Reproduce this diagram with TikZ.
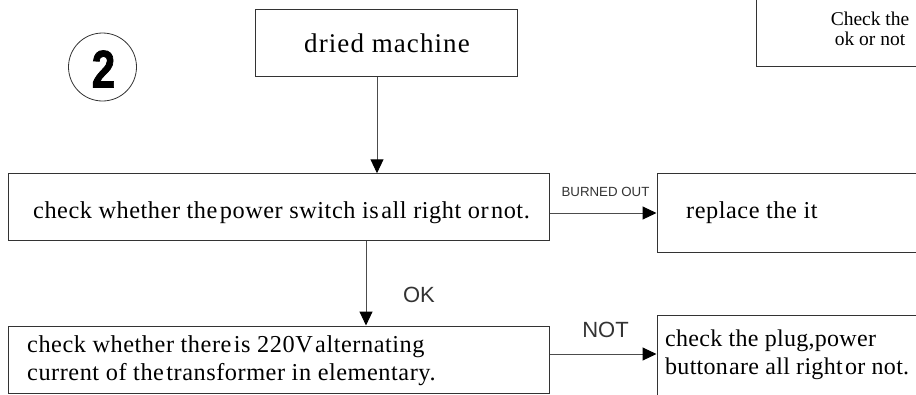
\documentclass[tikz,border=0pt]{standalone}
\usepackage{fontspec}
\setmainfont{Liberation Serif}
\newfontfamily\labelfont{Liberation Sans}
\newfontfamily\bodyfont[LetterSpace=2.2]{Liberation Serif}
\newfontfamily\plugfont[LetterSpace=1.2]{Liberation Serif}
\newfontfamily\titlefont[LetterSpace=4]{Liberation Serif}
\newfontfamily\numfont{Liberation Sans}[BoldFeatures={FakeBold=1.6}]
\usetikzlibrary{arrows.meta,positioning}
\tikzset{
  box/.style={draw=black!80, line width=1pt, rectangle, inner sep=0pt},
  txt/.style={inner sep=0pt, font=\bodyfont\fontsize{24.3}{28}\selectfont, align=left},
  arr/.style={draw=black!70, line width=1pt, -{Triangle[length=14pt,width=13pt,color=black]}, shorten >=0pt},
  lbl/.style={inner sep=0pt, font=\labelfont\fontsize{22}{24}\selectfont, text=black!80},
}
\begin{document}
\begin{tikzpicture}[x=1pt,y=-1pt]
\useasboundingbox (0,0) rectangle (916,394);
\clip (0,0) rectangle (916,394);
% circle with number
\node[draw=black!80, line width=0.8pt, circle, minimum size=68pt, inner sep=0pt] (num) at (102.5,67) {};
\node[inner sep=0pt, font=\numfont\bfseries\fontsize{53}{53}\selectfont, xscale=0.8] (numtxt) at (103.5,69) {2};
% boxes
\node[box, minimum width=262pt, minimum height=67pt] (dried) at (386,42.7) {};
\node[inner sep=0pt, font=\titlefont\fontsize{27}{30}\selectfont] (driedtxt) at (387,43) {dried machine};
\node[box, minimum width=234pt, minimum height=90pt] (checkbox) at (873,21.7) {};
\node[inner sep=0pt, font=\fontsize{19.5}{20}\selectfont, align=center] (checktxt) at (870,29) {Check the\\ok or not};
\node[box, minimum width=541pt, minimum height=66.5pt] (switch) at (278.5,207) {};
\node[txt, anchor=west] (switchtxt) at (33,213) {check whether the\hspace{0.1em}power switch is\hspace{0.1em}all right or\hspace{0.1em}not.};
\node[box, minimum width=333pt, minimum height=79pt] (replace) at (823.5,212.8) {};
\node[txt, anchor=west] (replacetxt) at (686,213) {replace the it};
\node[box, minimum width=541pt, minimum height=67pt] (elem) at (278.5,359.5) {};
\node[txt, anchor=west] (elemtxt) at (27,361) {check whether there\hspace{0.1em}is 220V\hspace{0.1em}alternating\\current of the\hspace{0.1em}transformer in elementary.};
\node[box, minimum width=333pt, minimum height=120pt] (plug) at (823.5,375.7) {};
\node[txt, anchor=west, font=\plugfont\fontsize{24}{28}\selectfont] (plugtxt) at (665,354.5) {check the plug,power\\button\hspace{0.05em}are all right\hspace{0.1em}or not.};
% connectors
\draw[arr] ([xshift=-9pt]dried.south) -- ([xshift=-9pt]dried.south |- switch.north);
\draw[arr] ([yshift=-6pt]switch.east) -- ([yshift=-6pt]switch.east -| replace.west);
\draw[arr] ([xshift=87.5pt]switch.south) -- ([xshift=87.5pt]switch.south |- elem.north);
\draw[arr] ([yshift=5.5pt]elem.east) -- ([yshift=5.5pt]elem.east -| plug.west);
% labels
\node[lbl, font=\labelfont\fontsize{13.3}{14}\selectfont] (burned) at (605.5,192) {BURNED OUT};
\node[lbl] (ok) at (419,295) {OK};
\node[lbl] (not) at (605.5,330) {NOT};
\end{tikzpicture}
\end{document}
